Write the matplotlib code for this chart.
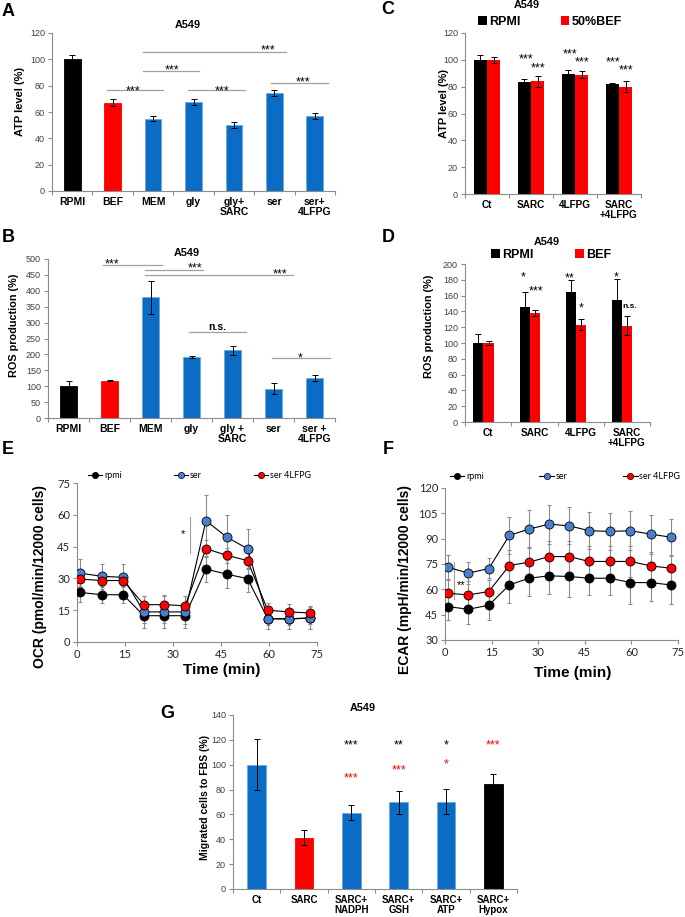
import matplotlib
matplotlib.use('Agg')
import matplotlib.pyplot as plt
from matplotlib.lines import Line2D
from matplotlib.patches import Patch
import numpy as np

plt.rcParams['font.family'] = ['Liberation Sans', 'DejaVu Sans']

W, H = 685, 917
BLUE = '#0a6cc4'
RED = '#ff0000'
GRAY = '#8c8c8c'
TXT = '#404040'

# ---- panel A: ATP level ----
a_labels = ['RPMI', 'BEF', 'MEM', 'gly', 'gly+\nSARC', 'ser', 'ser+\n4LFPG']
a_vals = [100, 67, 55, 67.5, 50, 74.5, 57]
a_err = [3.5, 2.5, 2.2, 2, 2.5, 2, 2]
a_cols = ['k', RED, BLUE, BLUE, BLUE, BLUE, BLUE]
# (x0, x1, line y, text x, text y, text)
a_sig = [(0.85, 2.25, 76.5, 1.5, 79.6, '***'),
         (1.75, 3.14, 91.2, 2.47, 95.5, '***'),
         (2.87, 4.27, 76.5, 3.7, 79.6, '***'),
         (1.75, 5.28, 105.6, 4.85, 110.7, '***'),
         (4.92, 6.33, 82.0, 5.7, 85.9, '***')]

# ---- panel B: ROS production ----
b_labels = ['RPMI', 'BEF', 'MEM', 'gly', 'gly +\nSARC', 'ser', 'ser +\n4LFPG']
b_vals = [100, 117, 379, 192, 213, 92, 126]
b_err = [15, 2, 52, 3, 14, 18, 10]
b_cols = ['k', RED, BLUE, BLUE, BLUE, BLUE, BLUE]
b_sig = [(0.84, 2.28, 482, 1.06, 498, '***'),
         (1.87, 3.28, 464, 3.08, 484, '***'),
         (1.87, 5.47, 449, 5.16, 466, '***'),
         (2.95, 4.33, 270, 3.62, 286, 'n.s.'),
         (4.96, 6.38, 189, 5.65, 202, '*')]

# ---- panel C: ATP, RPMI vs 50%BEF ----
c_labels = ['Ct', 'SARC', '4LFPG', 'SARC\n+4LFPG']
c_rpmi = [100, 83.7, 89.6, 81.7]
c_rpmi_err = [3.5, 2, 2.5, 1]
c_bef = [100, 84, 89, 80]
c_bef_err = [2, 4, 2.5, 4]
c_stars = [(0.88, 103.5, '***'), (1.166, 97, '***'), (1.886, 107.7, '***'),
           (2.152, 101.7, '***'), (2.87, 101.7, '***'), (3.152, 95.5, '***')]

# ---- panel D: ROS, RPMI vs BEF ----
d_labels = ['Ct', 'SARC', '4LFPG', 'SARC\n+4LFPG']
d_rpmi = [100, 145, 164, 154.5]
d_rpmi_err = [12, 20, 16, 26]
d_bef = [100, 138, 123, 122]
d_bef_err = [2, 3.5, 7, 12]
d_stars = [(0.747, 189.5, '*'), (1.035, 171, '***'), (1.756, 188, '**'),
           (2.02, 149.5, '*'), (2.765, 189.5, '*'), (3.068, 147, 'n.s.')]

# ---- panel E: OCR ----
e_time = [0.8, 7.7, 14.4, 20.9, 27.2, 33.8, 40.3, 46.8, 53.3, 59.6, 66.2, 72.7]
e_rpmi = [23.4, 22.3, 22.3, 12.4, 12.4, 12.4, 34.4, 32.0, 29.9, 11.0, 10.8, 11.3]
e_rpmi_err = [4.5, 4, 4, 3.5, 3.5, 4, 6, 6.5, 6.5, 3, 3, 3]
e_ser = [32.5, 31.0, 30.5, 14.2, 14.2, 14.2, 57.2, 49.5, 44.0, 11.0, 11.0, 11.3]
e_ser_err = [6.5, 6, 6.5, 7.5, 7.5, 7.5, 12, 10.5, 9.5, 5, 5, 5]
e_lfpg = [29.7, 29.0, 29.0, 17.6, 17.6, 17.1, 44.0, 40.9, 38.4, 15.0, 14.2, 13.7]
e_lfpg_err = [3.5, 3, 3, 4, 4.5, 4.5, 4, 3.5, 3.5, 3.5, 3.5, 3.5]

# ---- panel F: ECAR ----
f_time = [0.9, 7.5, 14.1, 20.7, 27.1, 33.5, 40.0, 46.4, 53.0, 59.7, 66.2, 72.6]
f_rpmi = [49.8, 48.2, 50.6, 62.6, 66.6, 68.0, 67.6, 66.6, 66.6, 64.0, 64.0, 62.6]
f_rpmi_err = [8, 8.5, 8.5, 10.5, 10.5, 11, 12, 10, 10, 12.5, 11, 11]
f_ser = [73.1, 69.6, 72.3, 91.9, 95.7, 98.6, 97.6, 94.7, 94.3, 94.7, 92.7, 90.9]
f_ser_err = [7, 6.5, 6.5, 11, 11.3, 11.5, 11, 11, 11, 11.5, 11.5, 11]
f_lfpg = [57.7, 56.7, 58.7, 74.1, 76.1, 79.4, 79.4, 76.5, 76.5, 76.5, 73.9, 72.5]
f_lfpg_err = [8, 8, 8, 9, 9, 9.3, 9, 9, 9, 9, 8.5, 8]

# ---- panel G: migration ----
g_labels = ['Ct', 'SARC', 'SARC+\nNADPH', 'SARC+\nGSH', 'SARC+\nATP', 'SARC+\nHypox']
g_vals = [100, 41.3, 61.4, 69.7, 70.2, 84.7]
g_err = [20.5, 6, 6, 9.5, 10, 8]
g_cols = [BLUE, RED, BLUE, BLUE, BLUE, 'k']
g_stars = [(2, 119.3, '***', 'k'), (3, 119.3, '**', 'k'), (4, 119.3, '*', 'k'),
           (5, 119.3, '***', RED), (2, 92.5, '***', RED), (3, 99.2, '***', RED),
           (4, 104.3, '*', RED)]

fig = plt.figure(figsize=(W / 100, H / 100), dpi=100)


def px_axes(l, t, r, b):
    return fig.add_axes([l / W, 1 - b / H, (r - l) / W, (b - t) / H])


def spines(ax):
    for s in ['top', 'right']:
        ax.spines[s].set_visible(False)
    for s in ['left', 'bottom']:
        ax.spines[s].set_color(GRAY)
        ax.spines[s].set_linewidth(0.8)


def cat_axes(ax, labels, fs=7.2):
    n = len(labels)
    spines(ax)
    ax.set_xlim(-0.5, n - 0.5)
    ax.set_xticks(range(n))
    ax.set_xticklabels(labels, fontweight='bold', fontsize=fs, linespacing=1.1)
    ax.set_xticks(np.arange(n + 1) - 0.5, minor=True)
    ax.tick_params(axis='x', which='major', length=0, pad=4)
    ax.tick_params(axis='x', which='minor', length=3, color=GRAY, width=0.8)
    ax.tick_params(axis='y', length=3, color=GRAY, width=0.8, labelsize=6.5,
                   labelcolor=TXT, pad=2)


def star(ax, x, y, s, color='k', fs=9):
    # put the glyph centre at (x, y)
    off = -0.62 * fs if '*' in s else -0.3 * fs
    w = 'bold' if s == 'n.s.' else 'normal'
    ax.annotate(s, (x, y), xytext=(0, off), textcoords='offset points',
                ha='center', va='baseline', fontsize=fs, color=color, fontweight=w)


def bars(ax, x, vals, err, cols, width):
    edges = ['#6fa8dc' if c == BLUE else c for c in cols]
    ax.bar(x, vals, width, color=cols, edgecolor=edges, linewidth=0.6,
           yerr=err, error_kw=dict(ecolor='k', elinewidth=0.7, capsize=2, capthick=0.7))


def letter(x, y, s):
    fig.text(x / W, 1 - y / H, s, fontsize=13, fontweight='bold', ha='center', va='center')


def ylab(x, y, s, fs):
    fig.text(x / W, 1 - y / H, s, fontsize=fs, fontweight='bold', rotation=90,
             ha='center', va='center')


EK = dict(ecolor='k', elinewidth=0.7, capsize=2, capthick=0.7)

# A
ax = px_axes(52, 33, 335, 191)
bars(ax, range(len(a_vals)), a_vals, a_err, a_cols, 0.41)
cat_axes(ax, a_labels, 7.5)
ax.set_ylim(0, 120)
ax.set_yticks(range(0, 121, 20))
for x0, x1, y, tx, ty, s in a_sig:
    ax.plot([x0, x1], [y, y], color='#a0a0a0', lw=0.9)
    star(ax, tx, ty, s)
ax.text(0.48, 1.05, 'A549', transform=ax.transAxes, ha='center', va='center',
        fontsize=7.8, fontweight='bold')
ylab(20, 102, 'ATP level (%)', 8)
letter(8, 12, 'A')

# B
ax = px_axes(48, 259, 335, 418)
bars(ax, range(len(b_vals)), b_vals, b_err, b_cols, 0.42)
cat_axes(ax, b_labels, 7.5)
ax.set_ylim(0, 500)
ax.set_yticks(range(0, 501, 50))
for x0, x1, y, tx, ty, s in b_sig:
    ax.plot([x0, x1], [y, y], color='#a0a0a0', lw=0.9)
    star(ax, tx, ty, s, fs=9 if s != 'n.s.' else 7.5)
ax.text(0.484, 1.038, 'A549', transform=ax.transAxes, ha='center', va='center',
        fontsize=7.8, fontweight='bold')
ylab(14, 325, 'ROS production (%)', 7.8)
letter(8, 237, 'B')

# C
ax = px_axes(465, 33, 641, 194)
xc = np.arange(len(c_labels))
ax.bar(xc - 0.15, c_rpmi, 0.3, color='k', yerr=c_rpmi_err, error_kw=EK)
ax.bar(xc + 0.15, c_bef, 0.3, color=RED, yerr=c_bef_err, error_kw=EK)
cat_axes(ax, c_labels, 7.2)
ax.set_ylim(0, 120)
ax.set_yticks(range(0, 121, 20))
for x, y, s in c_stars:
    star(ax, x, y, s)
ax.legend([Patch(facecolor='k'), Patch(facecolor=RED)], ['RPMI', '50%BEF'], ncol=2,
          loc='lower left', bbox_to_anchor=(0.074, 1.03), frameon=False,
          handlelength=0.7, handleheight=0.7, handletextpad=0.2, columnspacing=3.2,
          borderaxespad=0, borderpad=0, prop=dict(weight='bold', size=9))
ax.text(0.35, 1 + 28 / 161, 'A549', transform=ax.transAxes, ha='center', va='center',
        fontsize=7.8, fontweight='bold')
ylab(444, 103, 'ATP level (%)', 8)
letter(388, 10, 'C')

# D
ax = px_axes(465, 264, 650, 422)
xd = np.arange(len(d_labels)) - 0.1
ax.bar(xd - 0.11, d_rpmi, 0.22, color='k', yerr=d_rpmi_err, error_kw=EK)
ax.bar(xd + 0.11, d_bef, 0.22, color=RED, yerr=d_bef_err, error_kw=EK)
cat_axes(ax, d_labels, 7.2)
ax.set_ylim(0, 200)
ax.set_yticks(range(0, 201, 20))
for x, y, s in d_stars:
    star(ax, x, y, s, fs=9 if s != 'n.s.' else 6)
ax.legend([Patch(facecolor='k'), Patch(facecolor=RED)], ['RPMI', 'BEF'], ncol=2,
          loc='center left', bbox_to_anchor=(0.14, 1.057), frameon=False,
          handlelength=0.7, handleheight=0.7, handletextpad=0.2, columnspacing=3.3,
          borderaxespad=0, borderpad=0, prop=dict(weight='bold', size=9))
ax.text(0.44, 1.14, 'A549', transform=ax.transAxes, ha='center', va='center',
        fontsize=7.8, fontweight='bold')
ylab(429, 326, 'ROS production (%)', 7.8)
letter(388, 237, 'D')


# E / F line plots
def seahorse(ax, t, series, ylim, step):
    spines(ax)
    for y, err, col, z in series:
        ax.errorbar(t, y, yerr=err, fmt='none', ecolor='#8c8c8c', elinewidth=0.8,
                    capsize=1.5, capthick=0.8, zorder=1)
    for y, err, col, z in series:
        ax.plot(t, y, '-o', color='k', lw=0.8, mfc=col, mec='k', ms=6.5, mew=0.6, zorder=z)
    ax.set_xlim(0, 75)
    ax.set_xticks(range(0, 76, 15))
    ax.set_ylim(*ylim)
    ax.set_yticks(range(ylim[0], ylim[1] + 1, step))
    ax.tick_params(length=3, color=GRAY, width=0.8, labelsize=8, labelcolor='#262626', pad=2)
    for lbl in ax.get_xticklabels() + ax.get_yticklabels():
        lbl.set_family(['Lato', 'DejaVu Sans'])
    handles = [Line2D([], [], color='k', lw=0.8, marker='o', mfc=c, mec='k', ms=4.5, mew=0.5)
               for c in ['k', '#4a7fd0', RED]]
    return handles


BL = '#4a7fd0'
ax = px_axes(77, 483, 317, 642)
h = seahorse(ax, e_time, [(e_rpmi, e_rpmi_err, 'k', 3), (e_ser, e_ser_err, BL, 4),
                          (e_lfpg, e_lfpg_err, RED, 5)], (0, 75), 15)
ax.legend(h, ['rpmi', 'ser', 'ser 4LFPG'], ncol=3, mode='expand', loc='lower left',
          bbox_to_anchor=(0.046, 1.02, 0.93, 0.05), frameon=False, handlelength=1.6,
          handletextpad=0.2, borderaxespad=0, borderpad=0,
          prop=dict(family=['Lato', 'DejaVu Sans'], size=6.5))
ax.plot([35.3, 35.3], [42, 59], color='#a0a0a0', lw=0.8)
ax.text(33, 51, '*', ha='center', va='center', fontsize=8)
ylab(40, 577, 'OCR (pmol/min/12000 cells)', 10)
fig.text(222 / W, 1 - 670 / H, 'Time (min)', fontsize=11, fontweight='bold',
         ha='center', va='center')
letter(8, 450, 'E')

ax = px_axes(445, 488, 678, 640)
h = seahorse(ax, f_time, [(f_rpmi, f_rpmi_err, 'k', 3), (f_ser, f_ser_err, BL, 4),
                          (f_lfpg, f_lfpg_err, RED, 5)], (30, 120), 15)
ax.legend(h, ['rpmi', 'ser', 'ser 4LFPG'], ncol=3, mode='expand', loc='lower left',
          bbox_to_anchor=(0.02, 1.045, 0.99, 0.05), frameon=False, handlelength=1.6,
          handletextpad=0.2, borderaxespad=0, borderpad=0,
          prop=dict(family=['Lato', 'DejaVu Sans'], size=6.5))
ax.plot([3, 3], [54, 76], color='#a0a0a0', lw=0.8)
ax.text(5.3, 62.6, '**', ha='center', va='center', fontsize=8)
ylab(405, 579, 'ECAR (mpH/min/12000 cells)', 10)
fig.text(573 / W, 1 - 673 / H, 'Time (min)', fontsize=11, fontweight='bold',
         ha='center', va='center')
letter(388, 449, 'F')

# G
ax = px_axes(233, 715, 517, 889)
bars(ax, range(len(g_vals)), g_vals, g_err, g_cols, 0.39)
cat_axes(ax, g_labels, 7)
ax.set_ylim(0, 140)
ax.set_yticks(range(0, 141, 20))
for x, y, s, c in g_stars:
    star(ax, x, y, s, color=c)
ax.text(0.458, 1.04, 'A549', transform=ax.transAxes, ha='center', va='center',
        fontsize=7.8, fontweight='bold')
ylab(205, 798, 'Migrated cells to FBS (%)', 7.5)
letter(167, 714, 'G')

fig.savefig('out.png', dpi=100)
